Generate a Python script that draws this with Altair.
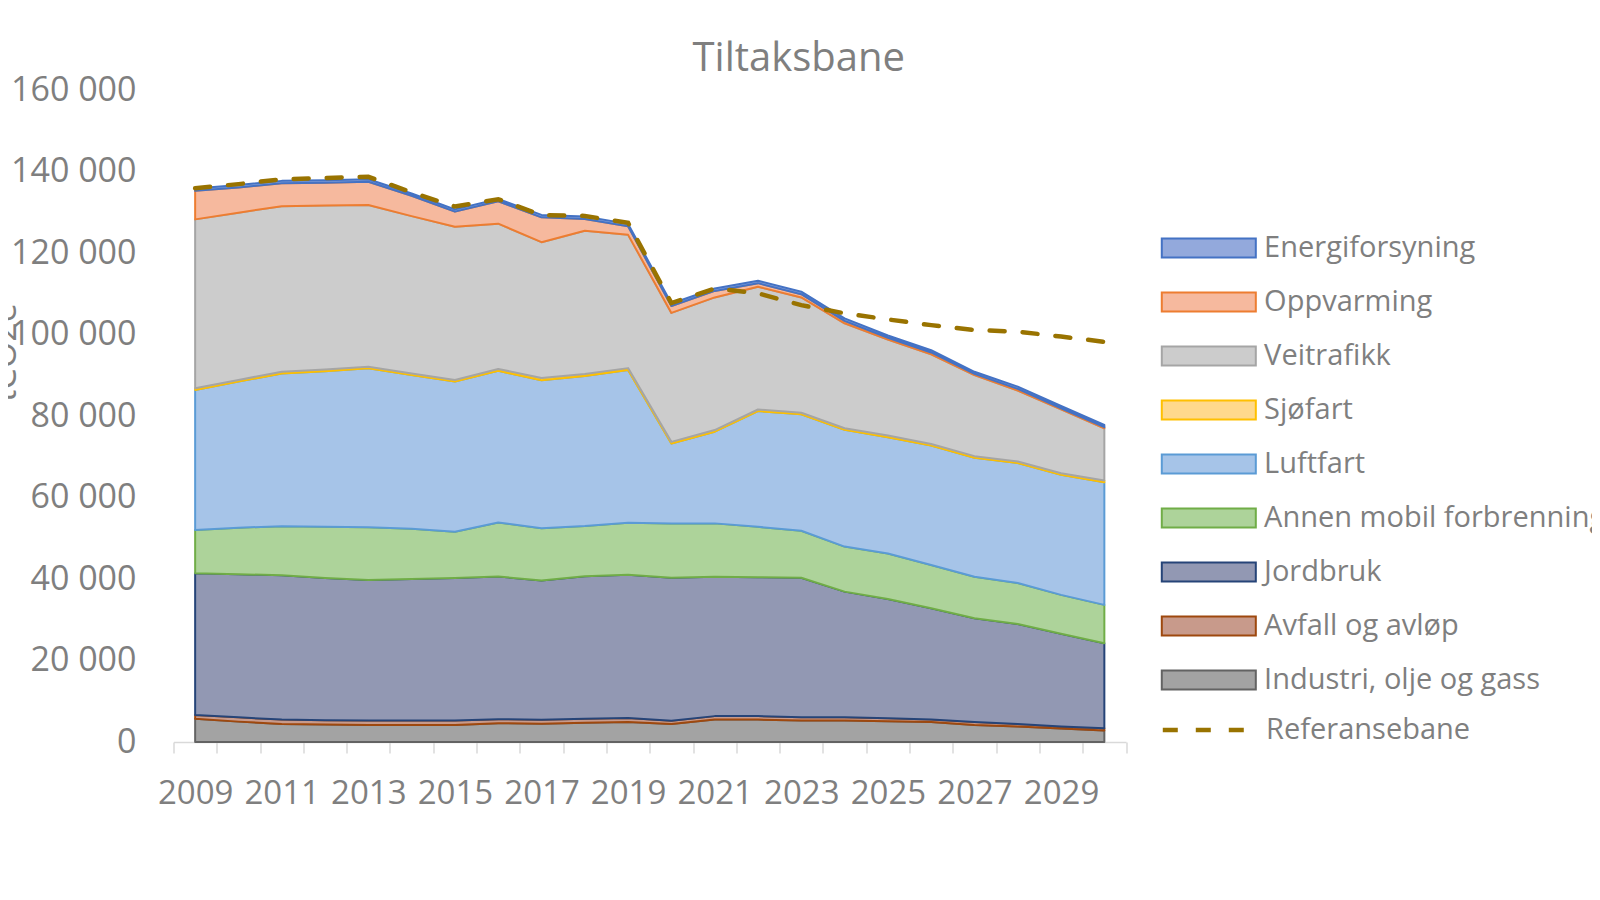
import altair as alt
import pandas as pd

years = list(range(2009, 2031))

# series, bottom of stack first
series_names = [
    "Industri, olje og gass",
    "Avfall og avløp",
    "Jordbruk",
    "Annen mobil forbrenning",
    "Luftfart",
    "Sjøfart",
    "Veitrafikk",
    "Oppvarming",
    "Energiforsyning",
]

industri = [5700, 5000, 4400, 4300, 4200, 4200, 4200, 4600, 4500, 4700, 4900,
            4400, 5500, 5500, 5300, 5300, 5100, 4900, 4200, 3800, 3300, 2800]
avfall = [900, 1050, 1100, 1050, 1050, 1050, 1050, 1000, 950, 1000, 1000,
          800, 850, 850, 800, 750, 700, 650, 700, 600, 500, 550]
jordbruk = [34800, 35100, 35450, 34900, 34500, 34750, 35000, 35000, 34200, 35000, 35150,
            35100, 34200, 34100, 34200, 30850, 29300, 27250, 25450, 24550, 22750, 20900]
annen_mobil = [10600, 11450, 12000, 12550, 12950, 12350, 11350, 13250, 12800, 12300, 12750,
               13300, 13100, 12350, 11550, 11050, 11150, 10650, 10200, 10050, 9550, 9400]
luftfart = [34400, 35850, 37500, 38200, 39000, 37700, 36850, 37250, 36300, 36800, 37500,
            19650, 22500, 28400, 28550, 28650, 28550, 29300, 29200, 29450, 29450, 30100]
sjofart = [400, 400, 400, 400, 400, 400, 400, 450, 600, 500, 450,
           400, 400, 400, 400, 400, 400, 400, 400, 400, 400, 400]
veitrafikk = [41450, 41050, 40650, 40250, 39700, 38600, 37600, 35650, 33300, 35150, 32700,
              31650, 32550, 30100, 28300, 25750, 23550, 22000, 19900, 17400, 15700, 12850]
oppvarming = [7000, 6200, 5600, 5600, 5700, 5000, 3700, 5500, 6100, 2900, 2100,
              1700, 1600, 900, 800, 600, 450, 450, 300, 400, 250, 250]
energiforsyning = [600, 600, 600, 600, 600, 550, 550, 550, 600, 600, 600,
                   600, 600, 600, 600, 600, 550, 550, 500, 550, 550, 550]

referansebane = [135900, 136900, 138100, 138400, 138700, 134900, 131400, 133200, 129300, 129100, 127400,
                 107700, 111300, 110100, 107200, 105200, 103700, 102300, 101100, 100700, 99500, 98200]

series_values = [industri, avfall, jordbruk, annen_mobil, luftfart, sjofart,
                 veitrafikk, oppvarming, energiforsyning]

legend_order = list(reversed(series_names))
fill_colors = ["#93a9dc", "#f6b99e", "#cccccc", "#ffd98c", "#a6c4e8",
               "#add39a", "#9298b3", "#c89a8b", "#a3a3a3"]
stroke_colors = ["#4472c4", "#ed7d31", "#a5a5a5", "#ffc000", "#5b9bd5",
                 "#70ad47", "#264478", "#9e480e", "#636363"]

rows = []
for idx, (name, vals) in enumerate(zip(series_names, series_values)):
    for yr, v in zip(years, vals):
        rows.append({"year": yr, "series": name, "value": v, "idx": idx})
df = pd.DataFrame(rows)
ref_df = pd.DataFrame({"year": years, "value": referansebane, "ref": "Referansebane"})

FONT = "Open Sans"
GREY = "#7f7f7f"

x_enc = alt.X(
    "year:O",
    scale=alt.Scale(type="band", paddingInner=0, paddingOuter=0),
    bandPosition=0.5,
    axis=alt.Axis(
        title=None,
        tickBand="extent",
        labelExpr="datum.value % 2 == 1 ? datum.label : ''",
        labelAngle=0,
        labelOverlap=False,
        labelFont=FONT,
        labelFontSize=33,
        labelColor=GREY,
        labelPadding=24,
        domainColor="#d9d9d9",
        domainWidth=1.5,
        tickColor="#d9d9d9",
        tickWidth=1.5,
        tickSize=11,
        grid=False,
    ),
)

y_scale = alt.Scale(domain=[0, 160000], nice=False)

SYM_SIZE = 5685  # sqrt = 75.4 -> path unit = 37.7 px

leg_common = dict(
    title=None,
    orient="none",
    legendX=996.3,
    legendY=119,
    symbolType="M-1.247,-0.249H1.247V0.249H-1.247Z",
    symbolSize=SYM_SIZE,
    symbolStrokeWidth=2,
    labelFont=FONT,
    labelFontSize=29,
    labelColor=GREY,
    labelOffset=16.3,
    labelLimit=600,
    rowPadding=0,
)

area = alt.Chart(df).mark_area(strokeWidth=2, opacity=1, strokeJoin="round").encode(
    x=x_enc,
    y=alt.Y(
        "value:Q",
        stack="zero",
        scale=y_scale,
        axis=alt.Axis(
            values=list(range(0, 160001, 20000)),
            labelExpr="replace(format(datum.value, ','), ',', ' ')",
            grid=False,
            domain=False,
            ticks=False,
            labelPadding=37.5,
            labelFont=FONT,
            labelFontSize=34,
            labelColor=GREY,
            title="tCO2e",
            titleX=-158.5,
            titleY=262,
            titleAngle=270,
            titleBaseline="alphabetic",
            titleFont=FONT,
            titleFontSize=34,
            titleFontWeight="normal",
            titleColor=GREY,
        ),
    ),
    fill=alt.Fill("series:N", scale=alt.Scale(domain=legend_order, range=fill_colors),
                  legend=alt.Legend(**leg_common)),
    stroke=alt.Stroke("series:N", scale=alt.Scale(domain=legend_order, range=stroke_colors),
                      legend=alt.Legend(**leg_common)),
    order=alt.Order("idx:Q", sort="ascending"),
)

line = alt.Chart(ref_df).mark_line(strokeWidth=4.5, color="#997300", strokeCap="round").encode(
    x=alt.X("year:O", bandPosition=0.5),
    y=alt.Y("value:Q", scale=y_scale),
    strokeDash=alt.StrokeDash(
        "ref:N",
        scale=alt.Scale(domain=["Referansebane"], range=[[15, 18]]),
        legend=alt.Legend(
            title=None,
            orient="none",
            legendX=996.3,
            legendY=600,
            symbolType="M-1.247,0H1.247",
            symbolSize=SYM_SIZE,
            symbolStrokeWidth=4.5,
            symbolStrokeColor="#997300",
            labelFont=FONT,
            labelFontSize=29,
            labelColor=GREY,
            labelOffset=16.3,
            labelLimit=600,
        ),
    ),
)

chart = alt.layer(area, line).properties(
    width=952.5,
    height=652,
    autosize="none",
    padding={"left": 165.5, "top": 82, "right": 466, "bottom": 120},
    title=alt.TitleParams(
        "Tiltaksbane",
        font=FONT,
        fontSize=40,
        fontWeight="normal",
        color=GREY,
        anchor="middle",
        frame="group",
        dx=149,
        dy=44,
        baseline="alphabetic",
        offset=6,
    ),
).configure_view(stroke=None).configure_legend(rowPadding=0)

chart.save("out.html", embed_options={"renderer": "svg", "actions": False})
